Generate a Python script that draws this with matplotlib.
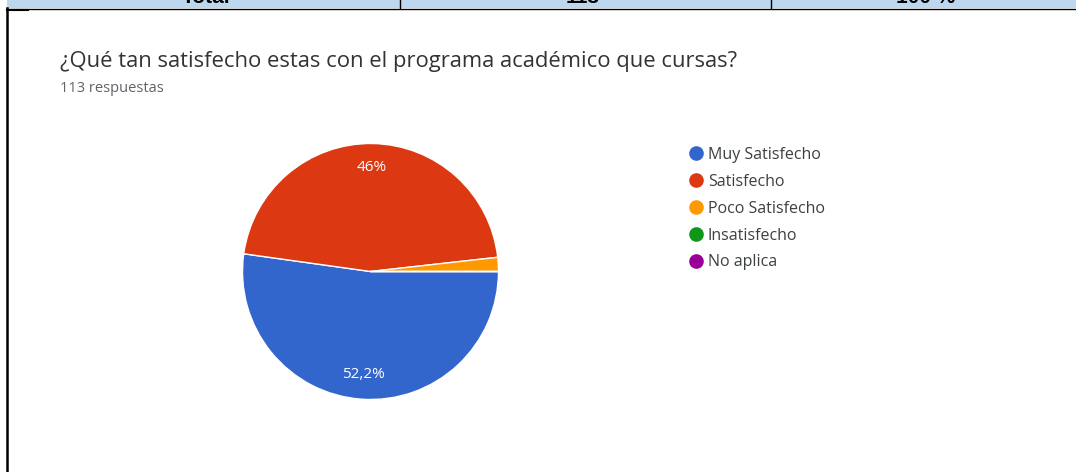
import matplotlib
matplotlib.use('Agg')
import numpy as np
import matplotlib.pyplot as plt
from matplotlib.lines import Line2D
from matplotlib.patches import Rectangle

plt.rcParams['font.family'] = ['Open Sans', 'DejaVu Sans']

# datos
categorias = ['Muy Satisfecho', 'Satisfecho', 'Poco Satisfecho', 'Insatisfecho', 'No aplica']
respuestas = [59, 52, 2, 0, 0]
colores = ['#3366cc', '#dc3912', '#ff9900', '#109618', '#990099']
etiquetas = ['52,2%', '46%', '', '', '']
titulo = '¿Qué tan satisfecho estas con el programa académico que cursas?'
subtitulo = '113 respuestas'
fila_tabla = ['Total', '113', '100 %']

W, H = 1076, 472
fig = plt.figure(figsize=(W / 100, H / 100), dpi=100)
fig.patch.set_facecolor('white')

def fx(x):
    return x / W

def fy(y):
    return 1 - y / H

# fila de tabla cortada arriba
fig.add_artist(Rectangle((fx(7), fy(8)), fx(W - 7), 8 / H, transform=fig.transFigure,
                         facecolor='#bdd7ee', edgecolor='none'))
for xc, txt in zip([206, 583, 926], fila_tabla):
    fig.text(fx(xc), fy(3), txt, ha='center', va='baseline', fontsize=15,
             fontweight='bold', color='black', family='Liberation Sans')
for xc in [400, 771]:
    fig.add_artist(Line2D([fx(xc), fx(xc)], [fy(0), fy(8)], transform=fig.transFigure,
                          color='black', lw=1))
fig.add_artist(Line2D([fx(7), fx(W)], [fy(8.5), fy(8.5)], transform=fig.transFigure,
                      color='black', lw=1))
fig.add_artist(Line2D([fx(7), fx(28)], [fy(9.5), fy(9.5)], transform=fig.transFigure,
                      color='black', lw=1.5))
fig.add_artist(Line2D([fx(7), fx(7)], [fy(8), fy(H)], transform=fig.transFigure,
                      color='black', lw=1.8))

# titulo
fig.text(fx(60), fy(62), titulo, ha='left', va='center', fontsize=15.8, color='#333333')
fig.text(fx(60), fy(89), subtitulo, ha='left', va='center', fontsize=10.5, color='#5f6368')

# pastel
cx, cy, r = 370.5, 271.5, 128
ax = fig.add_axes([fx(cx - r), fy(cy + r), 2 * r / W, 2 * r / H])
wedges, _ = ax.pie(respuestas, colors=colores, startangle=0, counterclock=False,
                   wedgeprops=dict(edgecolor='white', linewidth=1))
for w, lab in zip(wedges, etiquetas):
    if not lab:
        continue
    ang = np.deg2rad((w.theta1 + w.theta2) / 2)
    ax.text(0.81 * np.cos(ang), 0.81 * np.sin(ang), lab, ha='center', va='center',
            color='white', fontsize=11)
ax.set_xlim(-1, 1)
ax.set_ylim(-1, 1)
ax.axis('off')

# leyenda
handles = [Line2D([], [], marker='o', linestyle='none', markersize=9.5,
                  markerfacecolor=c, markeredgecolor=c) for c in colores]
fig.legend(handles, categorias, loc='upper left', bbox_to_anchor=(fx(687), fy(147)),
           frameon=False, fontsize=11.5, labelspacing=0.68, handletextpad=0.2,
           handlelength=1.1, borderpad=0, borderaxespad=0, labelcolor='#3c4043')

fig.savefig('out.png', dpi=100, facecolor='white')
